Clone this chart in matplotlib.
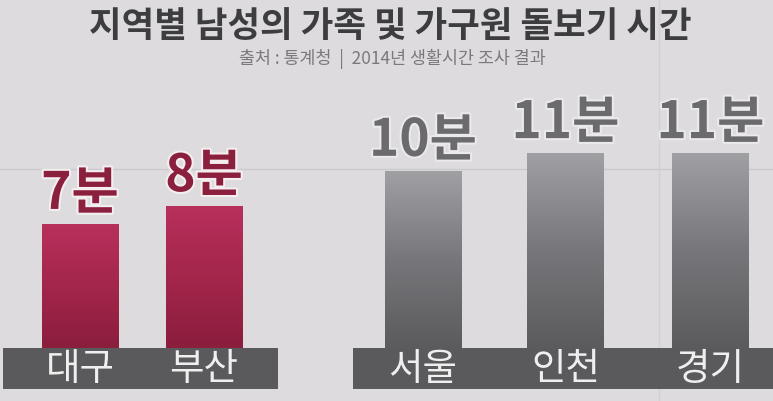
import numpy as np
import matplotlib.pyplot as plt
from matplotlib.patches import Rectangle
from matplotlib.colors import LinearSegmentedColormap
import matplotlib.patheffects as pe

plt.rcParams['font.family'] = ['Noto Sans CJK KR', 'DejaVu Sans']

# data
regions = ['대구', '부산', '서울', '인천', '경기']
minutes = [7, 8, 10, 11, 11]
labels = ['7분', '8분', '10분', '11분', '11분']
highlight = [True, True, False, False, False]

title = '지역별 남성의 가족 및 가구원 돌보기 시간'
subtitle = '출처 : 통계청  |  2014년 생활시간 조사 결과'

# layout (x in pixels of the 773 px wide picture)
xpos = [80, 204, 423, 565.5, 710.5]
bar_w = 77
W, H = 773, 401
px_per_min = 17.7
base_px = 348  # pixel row of bar bottoms
band_h = 41

fig = plt.figure(figsize=(W / 100, H / 100), dpi=100)
fig.patch.set_facecolor('#dddbde')
ax = fig.add_axes([0, 0, 1, 1])
ax.set_facecolor('#dddbde')
ax.set_xlim(0, W)
ax.set_ylim(-(H - base_px) / px_per_min, base_px / px_per_min)
ax.axis('off')

# faint wall seams
y_seam = (base_px - 169) / px_per_min
ax.axhline(y_seam, color='#cbc9cc', lw=1, zorder=0)
ax.axvline(659, color='#d2d0d3', lw=1, zorder=0)

red_cmap = LinearSegmentedColormap.from_list('r', ['#8b1d3d', '#a3264b', '#b8305c'])
gray_cmap = LinearSegmentedColormap.from_list('g', ['#5b5a5d', '#77767a', '#a09fa3'])
grad = np.linspace(0, 1, 256).reshape(-1, 1)

for x, v, lab, hi in zip(xpos, minutes, labels, highlight):
    rect = Rectangle((x - bar_w / 2, 0), bar_w, v, facecolor='none',
                     edgecolor='none', zorder=2)
    ax.add_patch(rect)
    im = ax.imshow(grad, cmap=red_cmap if hi else gray_cmap, aspect='auto',
                   origin='lower', extent=(x - bar_w / 2, x + bar_w / 2, 0, v),
                   zorder=2, interpolation='bicubic')
    im.set_clip_path(rect)
    if hi:
        tc, sc = '#8a1f3e', '#f4eef0'
    else:
        tc, sc = '#6b6a6d', '#ebe9ec'
    ax.annotate(lab, (x, v), xytext=(0, 3), textcoords='offset points',
                ha='center', va='bottom', fontsize=37, fontweight='bold',
                color=tc, zorder=4,
                path_effects=[pe.withStroke(linewidth=3, foreground=sc)])

# dark bands under the bars
band_y = -band_h / px_per_min
ax.add_patch(Rectangle((3, band_y), 275, band_h / px_per_min,
                       facecolor='#5a595b', edgecolor='none', zorder=3))
ax.add_patch(Rectangle((353, band_y), 425, band_h / px_per_min,
                       facecolor='#5a595b', edgecolor='none', zorder=3))
for x, r in zip(xpos, regions):
    ax.text(x, band_y / 2 - 0.05, r, ha='center', va='center', fontsize=27,
            fontweight='light', color='#f0eff0', zorder=4)

ax.set_ylim(-(H - base_px) / px_per_min, base_px / px_per_min)

fig.text(0.505, 1 - 27 / H, title, ha='center', va='center', fontsize=25.5,
         fontweight='bold', color='#3d3d3f')
fig.text(0.508, 1 - 59 / H, subtitle, ha='center', va='center', fontsize=12.5,
         color='#7a797c')

fig.savefig('out.png', dpi=100, facecolor=fig.get_facecolor())
